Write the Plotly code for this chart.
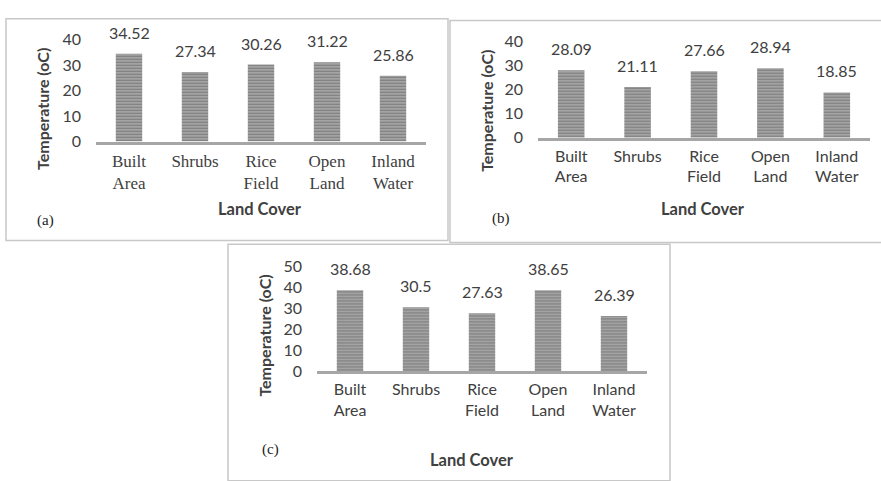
import plotly.graph_objects as go

W, H = 881, 481

categories = ["Built Area", "Shrubs", "Rice Field", "Open Land", "Inland Water"]
tick_text = ["Built<br>Area", "Shrubs", "Rice<br>Field", "Open<br>Land", "Inland<br>Water"]
temps_a = [34.52, 27.34, 30.26, 31.22, 25.86]
temps_b = [28.09, 21.11, 27.66, 28.94, 18.85]
temps_c = [38.68, 30.5, 27.63, 38.65, 26.39]
yticks_ab = [0, 10, 20, 30, 40]
yticks_c = [0, 10, 20, 30, 40, 50]

def px(x):
    return x / W

def py(y):
    return 1 - y / H

SANS = "Lato"
SERIF = "Liberation Serif"
TXT = "#404040"

panels = [
    dict(vals=temps_a, x0=96, x1=426, yb=137, yt=31, ymax=40, ticks=yticks_ab, catfont=SERIF, catsize=17,
         tag="(a)", ytp=(43, 103), xtp=(260, 207), tagp=(45, 219)),
    dict(vals=temps_b, x0=538, x1=870, yb=133, yt=33, ymax=40, ticks=yticks_ab, catfont=SANS, catsize=16,
         tag="(b)", ytp=(487, 105), xtp=(703, 207), tagp=(501, 217)),
    dict(vals=temps_c, x0=317, x1=647, yb=376, yt=267, ymax=50, ticks=yticks_c, catfont=SANS, catsize=16,
         tag="(c)", ytp=(265, 339), xtp=(472, 468), tagp=(270, 458)),
]

fig = go.Figure()
annotations = []
layout_axes = {}

for i, p in enumerate(panels):
    n = "" if i == 0 else str(i + 1)
    xa, ya = "x" + n, "y" + n
    fig.add_trace(go.Bar(
        x=categories, y=p["vals"], xaxis=xa, yaxis=ya,
        marker=dict(color="#a8a8a8", line=dict(width=0),
                    pattern=dict(shape="-", fgcolor="#454545", bgcolor="#b0b0b0",
                                 size=3, solidity=0.5)),
        showlegend=False, hoverinfo="x+y",
    ))
    for c, v in zip(categories, p["vals"]):
        annotations.append(dict(x=c, y=v, xref=xa, yref=ya, text=f"{v:g}", showarrow=False,
                                xanchor="center", yanchor="bottom", yshift=10,
                                font=dict(family=SANS, size=16, color=TXT)))
    layout_axes["xaxis" + n] = dict(
        domain=[px(p["x0"]), px(p["x1"])], anchor=ya,
        type="category", tickvals=categories, ticktext=tick_text,
        showline=True, linecolor="#a6a6a6", linewidth=2.5, showgrid=False,
        zeroline=False, ticks="", ticklabelstandoff=2,
        tickfont=dict(family=p["catfont"], size=p["catsize"], color=TXT),
    )
    layout_axes["yaxis" + n] = dict(
        domain=[py(p["yb"]), py(p["yt"])], anchor=xa,
        range=[0, p["ymax"]], tickvals=p["ticks"], showgrid=False, zeroline=False,
        showline=False, ticks="", ticklabelstandoff=14,
        tickfont=dict(family=SANS, size=16, color=TXT),
    )
    common = dict(xref="paper", yref="paper", showarrow=False, xanchor="center", yanchor="middle")
    annotations.append(dict(x=px(p["ytp"][0]), y=py(p["ytp"][1]),
                            text="<b>Temperature (oC)</b>", textangle=-90,
                            font=dict(family=SANS, size=16, color=TXT), **common))
    annotations.append(dict(x=px(p["xtp"][0]), y=py(p["xtp"][1]),
                            text="<b>Land Cover</b>",
                            font=dict(family=SANS, size=16.5, color=TXT), **common))
    annotations.append(dict(x=px(p["tagp"][0]), y=py(p["tagp"][1]),
                            text=p["tag"],
                            font=dict(family=SERIF, size=15, color="#222222"), **common))

shapes = []
boxes = [(6, 9, 448, 240), (450, 11, 890, 242), (228, 244, 670, 490)]
for (x0, y0, x1, y1) in boxes:
    shapes.append(dict(type="rect", xref="paper", yref="paper",
                       x0=px(x0), x1=px(x1), y0=py(y1), y1=py(y0),
                       line=dict(color="#c8c8c8", width=1.5), fillcolor="rgba(0,0,0,0)"))

fig.update_layout(
    width=W, height=H, margin=dict(l=0, r=0, t=0, b=0),
    paper_bgcolor="white", plot_bgcolor="white",
    bargap=0.6, annotations=annotations, shapes=shapes,
    **layout_axes,
)

fig.write_html("out.html")
